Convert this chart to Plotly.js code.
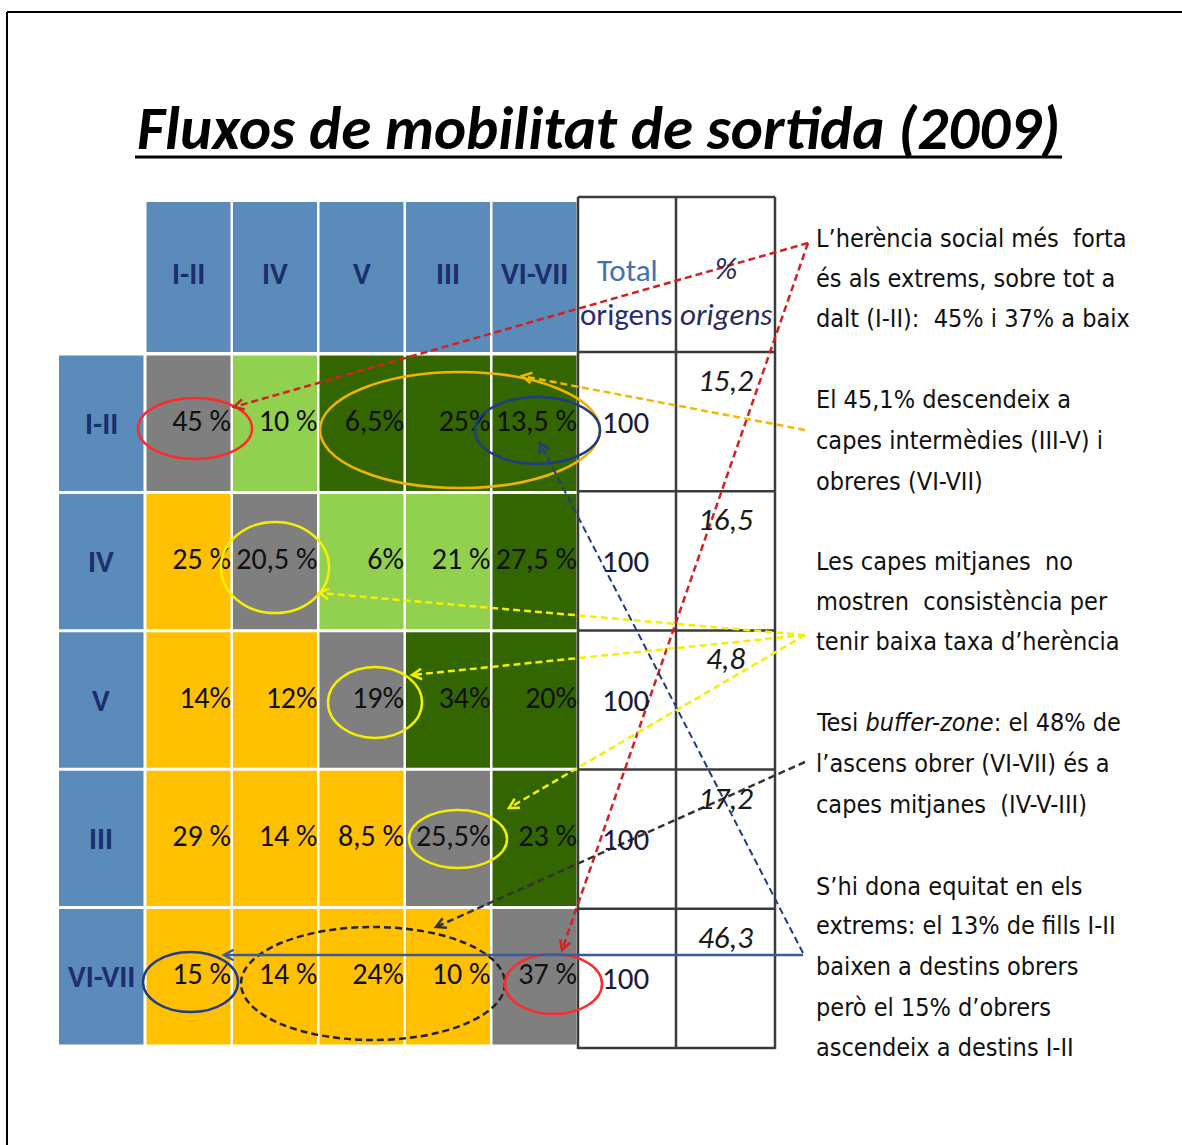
<!DOCTYPE html>
<html><head><meta charset="utf-8">
<script src="https://cdn.plot.ly/plotly-3.0.1.min.js"></script>
<style>html,body{margin:0;padding:0;background:#fff;overflow:hidden}#chart{width:1182px;height:1145px}</style>
</head><body><div id="chart"></div>
<script>
// ---------- DATA ----------
const chartTitle = 'Fluxos de mobilitat de sortida (2009)';
const classLabels = ['I-II', 'IV', 'V', 'III', 'VI-VII'];   // origin rows & destination columns
const flows_I_II  = ['45 %', '10 %', '6,5%', '25%', '13,5 %'];
const flows_IV    = ['25 %', '20,5 %', '6%', '21 %', '27,5 %'];
const flows_V     = ['14%', '12%', '19%', '34%', '20%'];
const flows_III   = ['29 %', '14 %', '8,5 %', '25,5%', '23 %'];
const flows_VI_VII= ['15 %', '14 %', '24%', '10 %', '37 %'];
// cell type: d = herència (diagonal), g = verd clar, G = verd fosc, o = taronja
const types_I_II  = ['d', 'g', 'G', 'G', 'G'];
const types_IV    = ['o', 'd', 'g', 'g', 'G'];
const types_V     = ['o', 'o', 'd', 'G', 'G'];
const types_III   = ['o', 'o', 'o', 'd', 'G'];
const types_VI_VII= ['o', 'o', 'o', 'o', 'd'];
const totalOrigens = [100, 100, 100, 100, 100];
const pctOrigens   = ['15,2', '16,5', '4,8', '17,2', '46,3'];
const notes = [
  ['L’herència social més  forta', 'és als extrems, sobre tot a', 'dalt (I-II):  45% i 37% a baix'],
  ['El 45,1% descendeix a', 'capes intermèdies (III-V) i', 'obreres (VI-VII)'],
  ['Les capes mitjanes  no', 'mostren  consistència per', 'tenir baixa taxa d’herència'],
  ['Tesi <i>buffer-zone</i>: el 48% de', 'l’ascens obrer (VI-VII) és a', 'capes mitjanes  (IV-V-III)'],
  ['S’hi dona equitat en els', 'extrems: el 13% de fills I-II', 'baixen a destins obrers', 'però el 15% d’obrers', 'ascendeix a destins I-II']
];

// ---------- STYLE / LAYOUT ----------
const flows = [flows_I_II, flows_IV, flows_V, flows_III, flows_VI_VII];
const types = [types_I_II, types_IV, types_V, types_III, types_VI_VII];
const typeColor = {d: '#7f7f7f', g: '#92d050', G: '#336600', o: '#ffc000'};
const headBlue = '#5a8bbb', navy = '#1c2e6e';
const CAL = 'Carlito, Calibri, Liberation Sans, sans-serif';
const NARROW = 'DejaVu Sans Condensed, Liberation Sans Narrow, Arial Narrow, sans-serif';
const GX0 = 145.5, CW = 86.5, GY0 = 354, RH = 138.4;
const HY0 = 202, HY1 = 352, RX0 = 59, RX1 = 143.5;
const TX = [578, 676, 775], TY0 = 352, TRH = 139.2, TTOP = 197;

const shapes = [], annotations = [];
const cx = c => GX0 + (c + 0.5) * CW;
const cy = r => GY0 + (r + 0.5) * RH;

// frame
shapes.push({type:'line', x0:7, x1:7, y0:12, y1:1145, line:{color:'#000', width:2}});
shapes.push({type:'line', x0:7, x1:1182, y0:12, y1:12, line:{color:'#000', width:2}});

// column headers & row headers
classLabels.forEach((lab, i) => {
  shapes.push({type:'rect', x0:GX0 + i*CW + 1, x1:GX0 + (i+1)*CW - 1.5, y0:HY0, y1:HY1,
    fillcolor:headBlue, line:{width:0}, layer:'below'});
  shapes.push({type:'rect', x0:RX0, x1:RX1, y0:GY0 + i*RH + 1.5, y1:GY0 + (i+1)*RH - 1.5,
    fillcolor:headBlue, line:{width:0}, layer:'below'});
  annotations.push({x:cx(i), y:273, text:'<b>'+lab+'</b>', showarrow:false, xanchor:'center', yanchor:'middle',
    font:{family:CAL, size:30, color:navy}});
  annotations.push({x:(RX0+RX1)/2, y:cy(i), text:'<b>'+lab+'</b>', showarrow:false, xanchor:'center', yanchor:'middle',
    font:{family:CAL, size:30, color:navy}});
});

// matrix cells
const tx = [], ty = [], tt = [];
flows.forEach((row, r) => row.forEach((v, c) => {
  shapes.push({type:'rect', x0:GX0 + c*CW + 1, x1:GX0 + (c+1)*CW - 1.5,
    y0:GY0 + r*RH + 1.5, y1:GY0 + (r+1)*RH - 1.5,
    fillcolor:typeColor[types[r][c]], line:{width:0}, layer:'below'});
  tx.push(GX0 + (c+1)*CW - 1); ty.push(cy(r)); tt.push(v);
}));

// right table
const bc = '#3c3c3c';
TX.forEach(x => shapes.push({type:'line', x0:x, x1:x, y0:TTOP, y1:TY0 + 5*TRH + 1, line:{color:bc, width:2.5}}));
shapes.push({type:'line', x0:TX[0], x1:TX[2], y0:TTOP, y1:TTOP, line:{color:bc, width:2.5}});
for (let k = 0; k <= 5; k++) {
  shapes.push({type:'line', x0:TX[0], x1:TX[2], y0:TY0 + k*TRH, y1:TY0 + k*TRH, line:{color:bc, width:2.5}});
}
annotations.push({x:(TX[0]+TX[1])/2, y:270, text:'Total', showarrow:false, font:{family:CAL, size:31, color:'#3f72b5'}});
annotations.push({x:(TX[0]+TX[1])/2 - 1, y:314, text:'origens', showarrow:false, font:{family:CAL, size:31, color:'#2a2a78'}});
annotations.push({x:(TX[1]+TX[2])/2, y:268, text:'<i>%</i>', showarrow:false, font:{family:CAL, size:31, color:'#2a2a58'}});
annotations.push({x:(TX[1]+TX[2])/2, y:314, text:'<i>origens</i>', showarrow:false, font:{family:CAL, size:31, color:'#2a2a58'}});
totalOrigens.forEach((v, r) => {
  annotations.push({x:600, y:TY0 + (r+0.5)*TRH, text:String(v), showarrow:false, xanchor:'left',
    font:{family:CAL, size:31, color:'#1a1a3a'}});
  annotations.push({x:(TX[1]+TX[2])/2, y:TY0 + r*TRH + 28, text:'<i>'+pctOrigens[r]+'</i>', showarrow:false,
    font:{family:CAL, size:31, color:'#1a1a1a'}});
});

// title
annotations.push({x:598, y:128, text:'<b><i>'+chartTitle+'</i></b>', showarrow:false, xanchor:'center', yanchor:'middle',
  font:{family:CAL, size:61, color:'#000'}});
shapes.push({type:'line', x0:135, x1:1062, y0:157, y1:157, line:{color:'#000', width:3}});

// notes
const noteY = [[238,278,318],[399,440,481],[561,601,641],[722,763,804],[886,925,966,1007,1047]];
notes.forEach((blk, b) => blk.forEach((ln, j) => {
  annotations.push({x:814, y:noteY[b][j], text:ln, showarrow:false, xanchor:'left', yanchor:'middle',
    font:{family:NARROW, size:25, color:'#111'}});
}));

// overlays: ellipses and arrows
const DASH = '7px,4px';
function ell(x0, x1, y0, y1, color, dash) {
  shapes.push({type:'circle', x0, x1, y0, y1, line:{color, width:2.5, dash:dash||'solid'}});
}
function arrow(x0, y0, x1, y1, color, dash, w) {
  shapes.push({type:'line', x0, y0, x1, y1, line:{color, width:w||2.5, dash:dash||DASH}});
  const a = Math.atan2(y1 - y0, x1 - x0), L = 11, sp = 0.5;
  const p1 = [x1 - L*Math.cos(a - sp), y1 - L*Math.sin(a - sp)];
  const p2 = [x1 - L*Math.cos(a + sp), y1 - L*Math.sin(a + sp)];
  shapes.push({type:'path', path:`M${p1[0]},${p1[1]} L${x1},${y1} L${p2[0]},${p2[1]}`, line:{color, width:2.5}});
}
ell(138, 252, 398, 459, '#ff2a2a');
ell(320, 600, 372, 488, '#f0b400');
ell(475, 600, 397, 464, '#1f3c88');
ell(221, 329, 522, 613, '#f5f000');
ell(328, 422, 667, 738, '#f5f000');
ell(409, 507, 810, 868, '#f5f000');
ell(241, 505, 927, 1040, '#222', DASH);
ell(143, 238, 952, 1012, '#1f3c88');
ell(505, 602, 954, 1014, '#ff2a2a');

arrow(808, 243, 234, 407, '#d42020');
arrow(808, 243, 562, 950, '#d42020');
arrow(805, 430, 522, 376, '#f5b800');
arrow(805, 635, 319, 593, '#f5f000');
arrow(805, 635, 412, 675, '#f5f000');
arrow(805, 635, 509, 808, '#f5f000');
arrow(805, 762, 436, 927, '#333');
arrow(803, 953, 540, 443, '#1f3c88', DASH, 2);
arrow(803, 955, 224, 955, '#3a5a9a', 'solid', 2.5);

const data = [{
  type:'scatter', mode:'text', x:tx, y:ty, text:tt, textposition:'middle left',
  textfont:{family:CAL, size:30, color:'#111'}, hoverinfo:'skip', showlegend:false
}];
const layout = {
  width:1182, height:1145, margin:{l:0, r:0, t:0, b:0},
  paper_bgcolor:'#fff', plot_bgcolor:'#fff', showlegend:false,
  xaxis:{range:[0,1182], visible:false, fixedrange:true},
  yaxis:{range:[1145,0], visible:false, fixedrange:true},
  shapes, annotations
};
Plotly.newPlot('chart', data, layout, {staticPlot:true, displayModeBar:false});
</script></body></html>
